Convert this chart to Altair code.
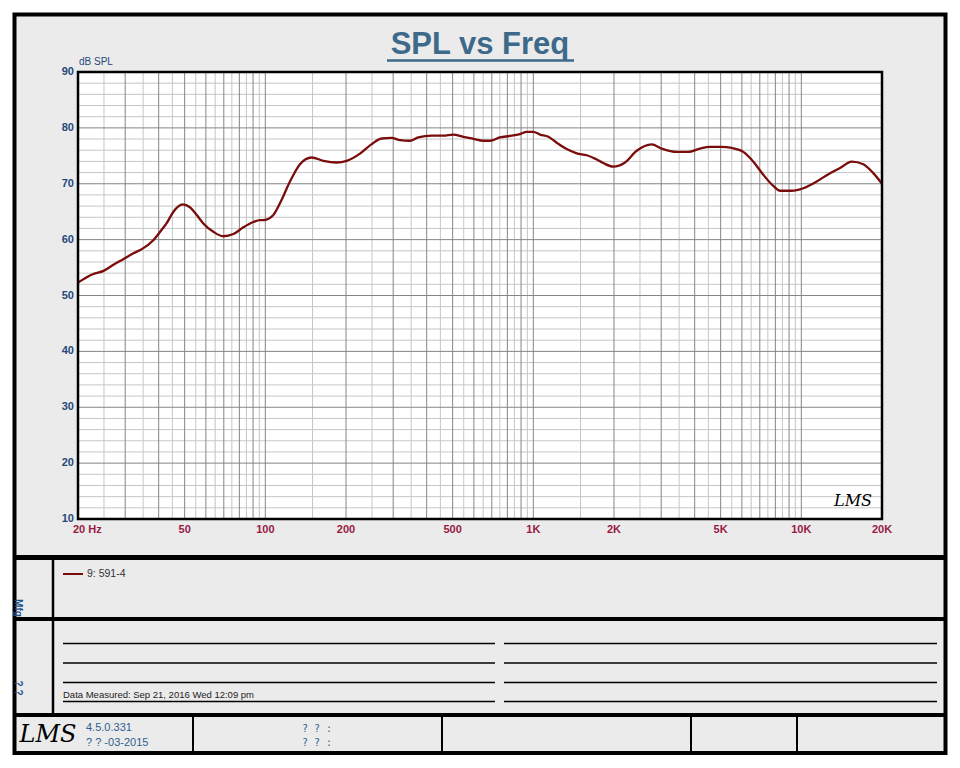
import altair as alt
import pandas as pd

# ---- data ----
freq_hz = [20, 22.8, 24.9, 27.1, 29.5, 32.2, 34.6, 38.2, 40.5, 42.9, 45.4, 49.2, 52.3, 55.5,
           58.7, 64.0, 69.7, 76.0, 82.8, 90.2, 95.5, 98.9, 107.1, 113.4, 123.6, 134.7, 148.9,
           164.6, 184.7, 201.2, 225.6, 249.4, 271.9, 296.2, 318.2, 346.7, 372.2, 417.7, 461.4,
           502.8, 548.0, 597.1, 650.6, 689.1, 751.0, 818.3, 892.1, 944.8, 999.7, 1059, 1138,
           1223, 1332, 1452, 1582, 1699, 1825, 1988, 2198, 2431, 2764, 3013, 3428, 3787, 4188,
           4564, 5046, 5498, 6075, 6622, 7214, 7860, 8327, 9207, 10172, 11412, 12794, 13940,
           15412, 17032, 18560, 20000]
spl_db = [52.3, 53.85, 54.4, 55.5, 56.5, 57.55, 58.3, 59.9, 61.4, 63.0, 65.0, 66.3, 65.8, 64.4,
          62.9, 61.4, 60.6, 61.0, 62.2, 63.15, 63.5, 63.5, 64.4, 66.5, 70.4, 73.5, 74.7,
          74.1, 73.8, 74.1, 75.4, 77.1, 78.1, 78.2, 77.8, 77.7, 78.3, 78.6, 78.6,
          78.8, 78.4, 78.05, 77.7, 77.7, 78.3, 78.55, 78.9, 79.3, 79.3, 78.8, 78.4,
          77.35, 76.2, 75.45, 75.1, 74.5, 73.7, 73.05, 73.8, 75.9, 77.05, 76.3, 75.7, 75.7, 76.3,
          76.6, 76.6, 76.4, 75.7, 73.95, 71.6, 69.6, 68.75, 68.75, 69.2, 70.4, 71.9, 72.8,
          73.95, 73.5, 71.9, 70.0]

x_tick_values = [20, 50, 100, 200, 500, 1000, 2000, 5000, 10000, 20000]
x_tick_labels = ["20  Hz", "50", "100", "200", "500", "1K", "2K", "5K", "10K", "20K"]
y_tick_values = [10, 20, 30, 40, 50, 60, 70, 80, 90]
series_name = "9: 591-4"

# grid positions (log decades: integer multiples dark, half steps light)
decades = [10, 100, 1000]
grid_major_x = sorted({m * d for d in decades for m in range(2, 11) if 20 <= m * d <= 20000})
grid_minor_x = sorted({(m + 0.5) * d for d in decades for m in range(1, 10) if 20 <= (m + 0.5) * d <= 20000})
grid_major_y = y_tick_values
grid_minor_y = [v for v in range(10, 91, 2) if v % 10 != 0]

# ---- layout ----
W, H = 804, 447
PL, PT = 78, 72
FONT = "Liberation Sans"
BG = "#ebebeb"
CURVE = "#7a0c0c"
XLAB = "#971a44"
YLAB = "#25497a"
TITLE = "#3d6a8a"

xs = alt.Scale(type="log", domain=[20, 20000])
ys = alt.Scale(domain=[10, 90])
one = alt.Data(values=[{}])


def px(x):
    return alt.value(x - PL)


def py(y):
    return alt.value(y - PT)


def hline(x1, x2, y, w=1.5, color="black"):
    return alt.Chart(one).mark_rule(color=color, strokeWidth=w).encode(
        x=px(x1), x2=px(x2), y=py(y))


def vline(x, y1, y2, w=1.5, color="black"):
    return alt.Chart(one).mark_rule(color=color, strokeWidth=w).encode(
        x=px(x), y=py(y1), y2=py(y2))


def label(s, x, y, size, color, weight="normal", align="left", angle=0, font=FONT,
          baseline="middle", style="normal"):
    kw = dict(text=s, fontSize=size, color=color, fontWeight=weight, align=align,
              font=font, baseline=baseline, fontStyle=style)
    if angle:
        kw["angle"] = angle
    return alt.Chart(one).mark_text(**kw).encode(x=px(x), y=py(y))


layers = []

# outer frame background
layers.append(alt.Chart(one).mark_rect(fill=BG, stroke="black", strokeWidth=4).encode(
    x=px(14.5), x2=px(945.5), y=py(14.5), y2=py(753)))

# plot area
layers.append(alt.Chart(one).mark_rect(fill="white").encode(
    x=px(PL), x2=px(PL + W), y=py(PT), y2=py(PT + H)))

# grid
layers.append(alt.Chart(pd.DataFrame({"f": grid_minor_x})).mark_rule(color="#c6c6c6", strokeWidth=1).encode(
    x=alt.X("f:Q", scale=xs, axis=None)))
layers.append(alt.Chart(pd.DataFrame({"d": grid_minor_y})).mark_rule(color="#c6c6c6", strokeWidth=1).encode(
    y=alt.Y("d:Q", scale=ys, axis=None)))
layers.append(alt.Chart(pd.DataFrame({"f": grid_major_x})).mark_rule(color="#858585", strokeWidth=1).encode(
    x=alt.X("f:Q", scale=xs, axis=None)))
layers.append(alt.Chart(pd.DataFrame({"d": grid_major_y})).mark_rule(color="#858585", strokeWidth=1).encode(
    y=alt.Y("d:Q", scale=ys, axis=None)))

# curve
df = pd.DataFrame({"f": freq_hz, "db": spl_db, "s": series_name})
layers.append(alt.Chart(df).mark_line(color=CURVE, strokeWidth=2.3, interpolate="monotone", clip=True).encode(
    x=alt.X("f:Q", scale=xs, axis=None), y=alt.Y("db:Q", scale=ys, axis=None)))

# plot border
layers.append(alt.Chart(one).mark_rect(fill=None, stroke="black", strokeWidth=2.5).encode(
    x=px(PL), x2=px(PL + W), y=py(PT), y2=py(PT + H)))

# tick labels
ylab = pd.DataFrame({"d": y_tick_values, "t": [str(v) for v in y_tick_values]})
layers.append(alt.Chart(ylab).mark_text(align="right", baseline="middle", fontSize=11, fontWeight="bold",
                                        color=YLAB, font=FONT).encode(
    x=px(74), y=alt.Y("d:Q", scale=ys, axis=None), text="t:N"))
xlab = pd.DataFrame({"f": x_tick_values[1:], "t": x_tick_labels[1:]})
layers.append(alt.Chart(xlab).mark_text(align="center", baseline="middle", fontSize=11, fontWeight="bold",
                                        color=XLAB, font=FONT).encode(
    x=alt.X("f:Q", scale=xs, axis=None), y=py(530), text="t:N"))
xlab0 = pd.DataFrame({"f": x_tick_values[:1], "t": x_tick_labels[:1]})
layers.append(alt.Chart(xlab0).mark_text(align="left", baseline="middle", fontSize=11, fontWeight="bold",
                                         color=XLAB, font=FONT, dx=-5).encode(
    x=alt.X("f:Q", scale=xs, axis=None), y=py(530), text="t:N"))

# title and axis unit
layers.append(label("SPL vs Freq", 480, 54, 31, TITLE, weight="bold", align="center", baseline="alphabetic"))
layers.append(hline(387, 574, 60.5, w=2.5, color=TITLE))
layers.append(label("dB SPL", 79, 62, 10, YLAB, baseline="middle"))
layers.append(label("LMS", 853, 501, 16, "black", align="center", font="DejaVu Serif", style="italic"))

# bottom panels
layers.append(hline(14.5, 945.5, 557.5, w=5))
layers.append(hline(14.5, 945.5, 619, w=4))
layers.append(hline(14.5, 945.5, 715, w=4))
layers.append(vline(53, 557.5, 715, w=2.5))
for xv in [193, 442, 691, 797]:
    layers.append(vline(xv, 715, 753, w=2))

# legend
layers.append(hline(63, 83, 574, w=2, color=CURVE))
layers.append(label(series_name, 87, 574, 10.5, "#333333"))
layers.append(label("Mfg", 18, 608, 10, "#24508a", weight="bold", align="center", angle=90))
layers.append(label("? ?", 18, 688, 10, "#24508a", weight="bold", align="center", angle=90))

# notes lines
for yv in [643.5, 663, 682.5, 701.5]:
    layers.append(hline(63, 495, yv, w=1.3))
    layers.append(hline(504, 937, yv, w=1.3))
layers.append(label("Data Measured: Sep 21, 2016  Wed 12:09 pm", 63, 695, 9.5, "#222222"))

# footer
layers.append(label("LMS", 48, 735, 24, "black", align="center", font="DejaVu Serif", style="italic"))
layers.append(label("4.5.0.331", 86, 728, 11, "#2f5f8f"))
layers.append(label("? ?  -03-2015", 86, 743, 11, "#2f5f8f"))
layers.append(label("? ? :", 302, 729, 10, "#2f5f8f", font="DejaVu Sans Mono"))
layers.append(label("? ? :", 302, 743, 10, "#2f5f8f", font="DejaVu Sans Mono"))

chart = alt.layer(*layers).properties(
    width=W, height=H,
    autosize=alt.AutoSizeParams(type="none"),
    padding={"left": PL, "top": PT, "right": 960 - PL - W, "bottom": 768 - PT - H},
    background="white",
).configure_view(stroke=None)

chart.save("out.html", embed_options={"renderer": "svg", "actions": False})
